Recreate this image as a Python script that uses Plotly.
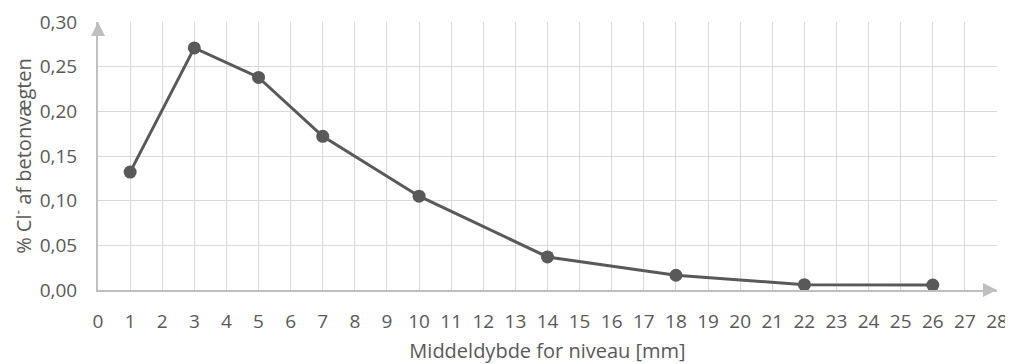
import plotly.graph_objects as go

depth_mm = [1, 3, 5, 7, 10, 14, 18, 22, 26]
chloride_pct = [0.132, 0.271, 0.238, 0.172, 0.105, 0.037, 0.0165, 0.006, 0.0055]
x_ticks = list(range(0, 29))
y_ticks = [0, 0.05, 0.10, 0.15, 0.20, 0.25, 0.30]
y_tick_labels = ["0,00", "0,05", "0,10", "0,15", "0,20", "0,25", "0,30"]

txt = "#595959"
axis_col = "#bfbfbf"
fs = 19
fig = go.Figure()
fig.add_trace(go.Scatter(
    x=depth_mm, y=chloride_pct, mode="lines+markers",
    line=dict(color="#595959", width=3),
    marker=dict(color="#595959", size=13),
    showlegend=False, cliponaxis=False,
))

fig.update_layout(
    width=1005, height=356,
    margin=dict(l=90, r=16, t=14, b=74),
    paper_bgcolor="white", plot_bgcolor="white",
    font=dict(family="Open Sans, Liberation Sans, sans-serif", color=txt, size=fs),
    xaxis=dict(
        range=[0, 28], tickvals=x_ticks, ticktext=[str(v) for v in x_ticks],
        showgrid=True, gridcolor="#d9d9d9", gridwidth=1, automargin=False,
        zeroline=False, showline=True, linecolor=axis_col, linewidth=2,
        ticks="outside", ticklen=13, tickcolor="rgba(0,0,0,0)",
        tickfont=dict(size=fs, color=txt),
        title=dict(text="Middeldybde for niveau [mm]", font=dict(size=20, color=txt), standoff=13),
    ),
    yaxis=dict(
        range=[0, 0.30], tickvals=y_ticks, ticktext=y_tick_labels,
        showgrid=True, gridcolor="#d9d9d9", gridwidth=1, automargin=False,
        zeroline=False, showline=True, linecolor=axis_col, linewidth=2,
        ticks="outside", ticklen=15, tickcolor="rgba(0,0,0,0)",
        tickfont=dict(size=fs, color=txt),
        title=dict(text="% Cl<sup>-</sup> af betonvægten", font=dict(size=20, color=txt), standoff=18),
    ),
)

# axis arrowheads as pixel-sized triangles anchored at the axis ends (paper refs are not clipped)
fig.add_shape(type="path", xref="paper", yref="paper", xsizemode="pixel", ysizemode="pixel",
              xanchor=0, yanchor=1, path="M -7 -14 L 7 -14 L 0 0 Z",
              fillcolor=axis_col, line=dict(width=0), layer="above")
fig.add_shape(type="path", xref="paper", yref="paper", xsizemode="pixel", ysizemode="pixel",
              xanchor=1, yanchor=0, path="M -14 -7 L -14 7 L 0 0 Z",
              fillcolor=axis_col, line=dict(width=0), layer="above")

fig.write_html("out.html")
